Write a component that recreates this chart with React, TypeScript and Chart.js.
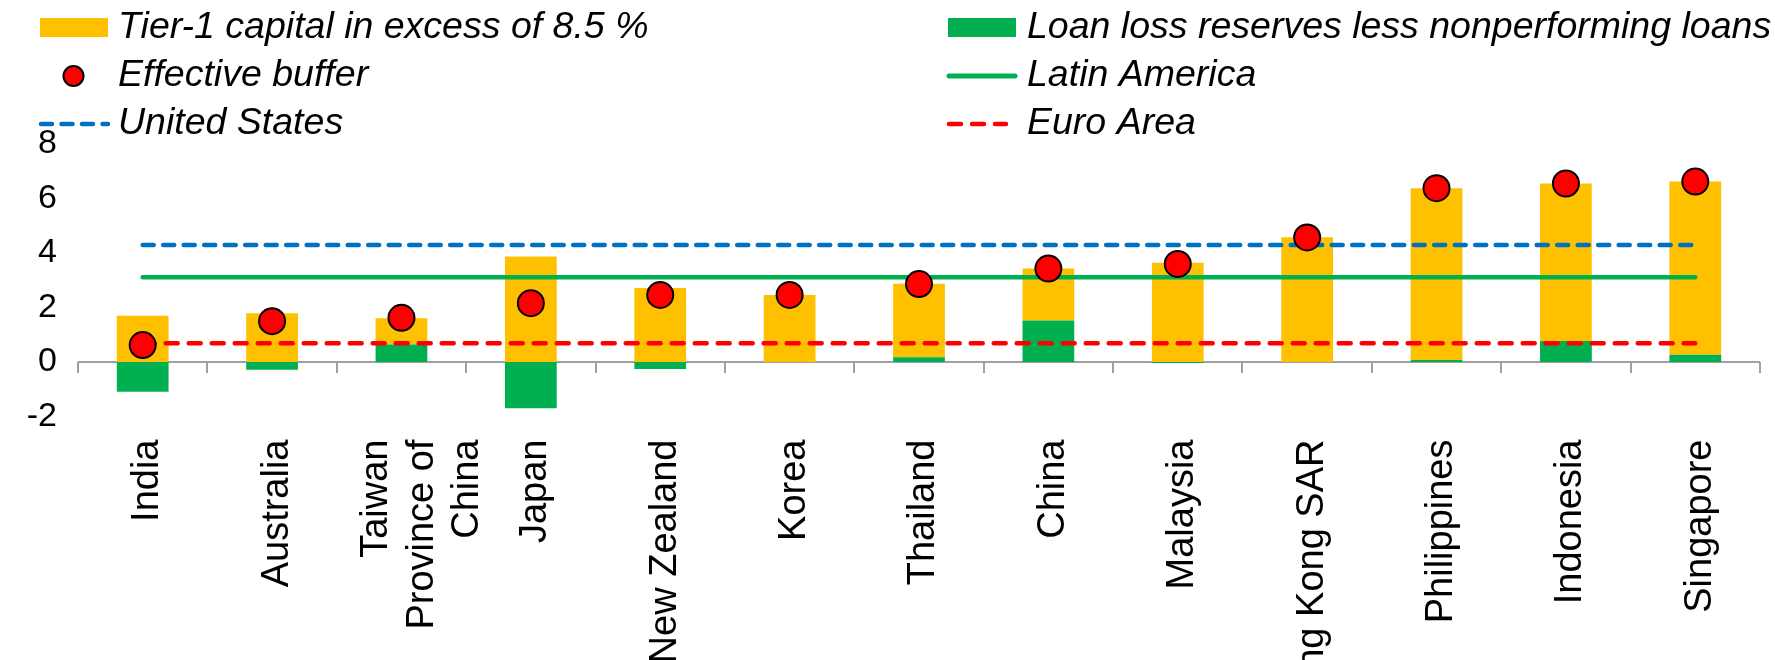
import React, { useEffect, useRef } from 'react';
import { Chart, registerables } from 'chart.js';

Chart.register(...registerables);

const FONT = '"Liberation Sans", Arial, Helvetica, sans-serif';

const categories: (string | string[])[] = [
  'India',
  'Australia',
  ['Taiwan', 'Province of', 'China'],
  'Japan',
  'New Zealand',
  'Korea',
  'Thailand',
  'China',
  'Malaysia',
  'Hong Kong SAR',
  'Philippines',
  'Indonesia',
  'Singapore',
];

const tier1Excess = [1.70, 1.79, 0.97, 3.87, 2.72, 2.46, 2.70, 1.91, 3.64, 4.58, 6.31, 5.78, 6.35];
const loanLossLessNpl = [-1.09, -0.28, 0.64, -1.70, -0.26, 0.0, 0.17, 1.52, -0.04, 0.0, 0.07, 0.77, 0.27];
const effectiveBuffer = [0.62, 1.50, 1.62, 2.16, 2.46, 2.46, 2.86, 3.43, 3.60, 4.57, 6.38, 6.55, 6.62];
const unitedStates = [4.29, 4.29, 4.29, 4.29, 4.29, 4.29, 4.29, 4.29, 4.29, 4.29, 4.29, 4.29, 4.29];
const latinAmerica = [3.11, 3.11, 3.11, 3.11, 3.11, 3.11, 3.11, 3.11, 3.11, 3.11, 3.11, 3.11, 3.11];
const euroArea = [0.69, 0.69, 0.69, 0.69, 0.69, 0.69, 0.69, 0.69, 0.69, 0.69, 0.69, 0.69, 0.69];

const yTicks = { min: -2, max: 8, step: 2 };

const COLORS = {
  yellow: '#FFC000',
  green: '#00B050',
  red: '#FF0000',
  blue: '#0070C0',
  axis: '#A0A0A0',
};

// Excel places the wrapped (multi-line) category label so that its first line
// sits left of the tick; shift the already-computed label item accordingly.
const MULTILINE_LABEL_SHIFT = -30;

const labelShiftPlugin = {
  id: 'labelShift',
  beforeDraw(chart: any) {
    const xs = chart.scales.x;
    const items = xs.getLabelItems(chart.chartArea);
    items.forEach((item: any, i: number) => {
      if (Array.isArray(categories[i]) && !item.__shifted) {
        item.options.translation[0] += MULTILINE_LABEL_SHIFT;
        item.__shifted = true;
      }
    });
  },
};

const zeroAxisPlugin = {
  id: 'zeroAxis',
  beforeDatasetsDraw(chart: any) {
    const { ctx } = chart;
    const xs = chart.scales.x;
    const ys = chart.scales.y;
    const y0 = ys.getPixelForValue(0);
    ctx.save();
    ctx.strokeStyle = COLORS.axis;
    ctx.lineWidth = 2;
    ctx.beginPath();
    ctx.moveTo(xs.left, y0);
    ctx.lineTo(xs.right, y0);
    for (let i = 0; i <= categories.length; i++) {
      const px = Math.round(xs.getPixelForValue(i - 0.5));
      ctx.moveTo(px, y0);
      ctx.lineTo(px, y0 + 11);
    }
    ctx.stroke();
    ctx.restore();
  },
};

const legendPlugin = {
  id: 'customLegend',
  afterDraw(chart: any) {
    const { ctx } = chart;
    ctx.save();
    ctx.font = `italic 37.5px ${FONT}`;
    ctx.textBaseline = 'middle';
    ctx.textAlign = 'left';
    const rows = [28, 76, 124];
    const leftMarkX = 40, leftTextX = 118;
    const rightMarkX = 948, rightTextX = 1027;

    ctx.fillStyle = COLORS.yellow;
    ctx.fillRect(leftMarkX, 18, 68, 19);
    ctx.fillStyle = COLORS.green;
    ctx.fillRect(rightMarkX, 18, 68, 19);

    ctx.beginPath();
    ctx.arc(leftMarkX + 33.5, rows[1], 10, 0, Math.PI * 2);
    ctx.fillStyle = COLORS.red;
    ctx.fill();
    ctx.lineWidth = 2;
    ctx.strokeStyle = '#000';
    ctx.stroke();

    ctx.lineCap = 'round';
    ctx.lineWidth = 5;
    ctx.strokeStyle = COLORS.green;
    ctx.beginPath();
    ctx.moveTo(rightMarkX + 1, rows[1]);
    ctx.lineTo(rightMarkX + 67, rows[1]);
    ctx.stroke();

    ctx.lineWidth = 4.5;
    ctx.strokeStyle = COLORS.blue;
    ctx.setLineDash([11, 9.5]);
    ctx.beginPath();
    ctx.moveTo(leftMarkX + 1, rows[2]);
    ctx.lineTo(leftMarkX + 68, rows[2]);
    ctx.stroke();

    ctx.strokeStyle = COLORS.red;
    ctx.setLineDash([12, 11]);
    ctx.beginPath();
    ctx.moveTo(rightMarkX + 1, rows[2]);
    ctx.lineTo(rightMarkX + 58, rows[2]);
    ctx.stroke();
    ctx.setLineDash([]);

    ctx.fillStyle = '#000';
    ctx.fillText('Tier-1 capital in excess of 8.5 %', leftTextX, rows[0]);
    ctx.fillText('Effective buffer', leftTextX, rows[1]);
    ctx.fillText('United States', leftTextX, rows[2]);
    ctx.fillText('Loan loss reserves less nonperforming loans', rightTextX, rows[0]);
    ctx.fillText('Latin America', rightTextX, rows[1]);
    ctx.fillText('Euro Area', rightTextX, rows[2]);
    ctx.restore();
  },
};

export default function App() {
  const canvasRef = useRef<HTMLCanvasElement | null>(null);

  useEffect(() => {
    if (!canvasRef.current) return;
    const lineBase = {
      type: 'line' as const,
      pointRadius: 0,
      borderWidth: 4.5,
      borderCapStyle: 'round' as const,
      fill: false,
      order: 2,
    };
    const chart = new Chart(canvasRef.current, {
      type: 'bar',
      data: {
        labels: categories as any,
        datasets: [
          {
            type: 'bar',
            label: 'Loan loss reserves less nonperforming loans',
            data: loanLossLessNpl,
            backgroundColor: COLORS.green,
            borderWidth: 0,
            barPercentage: 0.4,
            categoryPercentage: 1,
            stack: 'bars',
            order: 3,
          },
          {
            type: 'bar',
            label: 'Tier-1 capital in excess of 8.5 %',
            data: tier1Excess,
            backgroundColor: COLORS.yellow,
            borderWidth: 0,
            barPercentage: 0.4,
            categoryPercentage: 1,
            stack: 'bars',
            order: 3,
          },
          {
            ...lineBase,
            label: 'United States',
            data: unitedStates,
            borderColor: COLORS.blue,
            borderDash: [11, 9.5],
            stack: 'us',
          },
          {
            ...lineBase,
            label: 'Latin America',
            data: latinAmerica,
            borderColor: COLORS.green,
            stack: 'latam',
          },
          {
            ...lineBase,
            label: 'Euro Area',
            data: euroArea,
            borderColor: COLORS.red,
            borderDash: [12, 11],
            stack: 'euro',
          },
          {
            type: 'line',
            label: 'Effective buffer',
            data: effectiveBuffer,
            showLine: false,
            pointRadius: 13,
            pointBackgroundColor: COLORS.red,
            pointBorderColor: '#000',
            pointBorderWidth: 2,
            stack: 'eff',
            order: 1,
          },
        ] as any,
      },
      options: {
        responsive: false,
        animation: false,
        events: [],
        layout: { padding: { top: 144, right: 2, left: 0, bottom: 0 } },
        plugins: {
          legend: { display: false },
          tooltip: { enabled: false },
          title: { display: false },
        },
        scales: {
          x: {
            stacked: true,
            grid: { display: false, drawTicks: false },
            border: { display: false },
            ticks: {
              autoSkip: false,
              minRotation: 90,
              maxRotation: 90,
              padding: 23,
              labelOffset: 5,
              color: '#000',
              font: { family: FONT, size: 38, lineHeight: 1.2 },
            },
            afterFit: (s: any) => {
              s.height = 243.5;
            },
          },
          y: {
            stacked: true,
            min: yTicks.min,
            max: yTicks.max,
            grid: { display: false, drawTicks: false },
            border: { display: false },
            ticks: {
              stepSize: yTicks.step,
              padding: 21,
              color: '#000',
              font: { family: FONT, size: 34 },
            },
            afterFit: (s: any) => {
              s.width = 78;
            },
          },
        },
      } as any,
      plugins: [labelShiftPlugin, zeroAxisPlugin, legendPlugin],
    });
    return () => chart.destroy();
  }, []);

  return (
    <div style={{ position: 'absolute', left: 0, top: 0, width: 1775, height: 660, background: '#fff' }}>
      <canvas ref={canvasRef} width={1775} height={660} style={{ display: 'block' }} />
    </div>
  );
}
